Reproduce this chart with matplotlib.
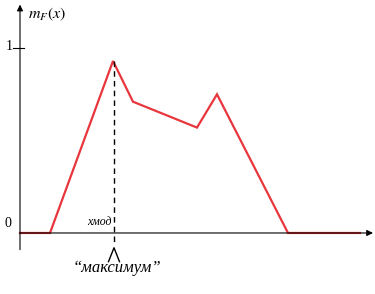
import matplotlib
matplotlib.use("Agg")
import matplotlib.pyplot as plt

# membership function m_F(x)
xs = [0, 3.0, 9.3, 11.3, 17.7, 19.7, 26.8, 34.0]
mf = [0, 0, 0.93, 0.71, 0.57, 0.75, 0, 0]
x_max = 9.4          # position of the maximum ("максимум")
y_ticks = [0, 1]
y_tick_labels = ["0", "1"]

red = "#e8363c"

fig = plt.figure(figsize=(3.75, 2.94), dpi=100)
ax = fig.add_axes([0, 0, 1, 1])
ax.set_xlim(-2.0, 35.5)
ax.set_ylim(-0.33, 1.26)
ax.axis("off")

# axes with arrow heads
ax.annotate("", xy=(35.3, 0), xytext=(0, 0),
            arrowprops=dict(arrowstyle="-|>", color="black", lw=0.8,
                            mutation_scale=9, shrinkA=0, shrinkB=0))
ax.annotate("", xy=(0, 1.235), xytext=(0, -0.09),
            arrowprops=dict(arrowstyle="-|>", color="black", lw=0.8,
                            mutation_scale=9, shrinkA=0, shrinkB=0))
ax.plot([-0.7, 0.4], [1, 1], color="black", lw=0.8)

for v, lab in zip(y_ticks, y_tick_labels):
    ax.text(-1.1 if v else -1.2, v + (0.05 if v == 0 else 0.01), lab,
            ha="center", va="center", family="Liberation Serif", fontsize=10)

ax.text(0.8, 1.185, r"$m_F(x)$", ha="left", va="center", fontsize=11.5,
        math_fontfamily="stix")

# the curve
ax.plot(xs, mf, color=red, lw=1.6, solid_joinstyle="miter")

# dashed line from the maximum down
ax.plot([x_max, x_max], [0.93, -0.06], color="black", lw=1.0,
        dashes=(4, 3))
ax.plot([x_max - 0.55, x_max, x_max + 0.55], [-0.155, -0.08, -0.155],
        color="black", lw=1.0)

ax.text(x_max - 0.2, 0.06, "xмод", ha="right", va="center",
        family="Liberation Serif", style="italic", fontsize=8.5)
ax.text(x_max + 0.3, -0.19, "“максимум”", ha="center", va="center",
        family="Liberation Serif", style="italic", fontsize=12)

fig.savefig("out.png", dpi=100)
